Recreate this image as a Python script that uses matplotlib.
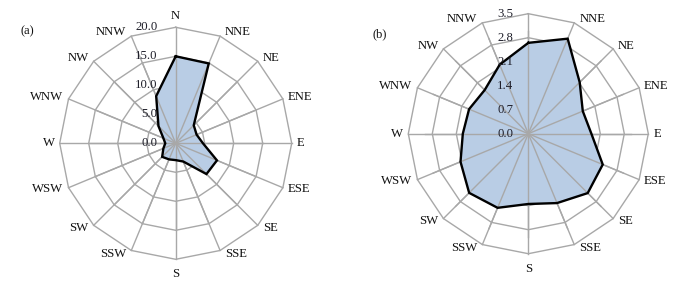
import numpy as np
import matplotlib
matplotlib.use("Agg")
import matplotlib.pyplot as plt

directions = ["N", "NNE", "NE", "ENE", "E", "ESE", "SE", "SSE",
              "S", "SSW", "SW", "WSW", "W", "WNW", "NW", "NNW"]
values_a = [15.0, 14.9, 4.4, 3.9, 4.7, 7.7, 7.5, 3.4,
            2.9, 3.0, 3.3, 2.3, 1.8, 2.3, 4.2, 8.8]
values_b = [2.65, 3.0, 2.12, 1.72, 1.84, 2.35, 2.45, 2.19,
            2.05, 2.34, 2.44, 2.14, 1.91, 1.87, 1.80, 2.18]
ticks_a = [0.0, 5.0, 10.0, 15.0, 20.0]
ticks_b = [0.0, 0.7, 1.4, 2.1, 2.8, 3.5]
panel_labels = ["(a)", "(b)"]

plt.rcParams['font.family'] = ['Liberation Serif', 'DejaVu Serif']

GRID = '#a8a8a8'
FILL = '#b9cde5'
TXT = '#1f1f2a'

fig = plt.figure(figsize=(6.93, 2.88), dpi=100)

def px(v):
    return v * 0.72  # pixels -> points at 100 dpi

def radar(rect, values, ticks, tick_gap_px, plabel, plabel_xy, show_top=True):
    ax = fig.add_axes(rect, projection='polar')
    ax.set_theta_zero_location('N')
    ax.set_theta_direction(-1)
    rmax = ticks[-1]
    ax.set_ylim(0, rmax)
    ax.grid(False)
    ax.set_xticks([])
    ax.set_yticks([])
    ax.spines['polar'].set_visible(False)
    ax.patch.set_visible(False)
    n = len(directions)
    theta = np.arange(n) * 2 * np.pi / n
    th_closed = np.append(theta, theta[0])
    for t in ticks[1:]:
        ax.plot(th_closed, [t] * (n + 1), color=GRID, lw=1.0, zorder=1, clip_on=False)
    for th in theta:
        ax.plot([th, th], [0, rmax], color=GRID, lw=1.0, zorder=1, clip_on=False)
    vals = np.append(values, values[0])
    ax.fill(th_closed, vals, color=FILL, zorder=2, lw=0)
    for th in theta:
        ax.plot([th, th], [0, max(values)], color=GRID, lw=1.0, zorder=2.5, clip_on=False)
    ax.plot(th_closed, vals, color='black', lw=1.7, zorder=3, solid_joinstyle='miter')
    for th, lab in zip(theta, directions):
        s, c = np.sin(th), np.cos(th)
        if abs(s) < 0.1:
            ha = 'center'
            dx = 0
            if c > 0:
                if not show_top:
                    continue
                va, dy = 'bottom', 5
            else:
                va, dy = 'top', -9
        else:
            ha = 'left' if s > 0 else 'right'
            dx = 5 if s > 0 else -5
            va = 'center'
            dy = 4 * c
        ax.annotate(lab, xy=(th, rmax), xytext=(px(dx), px(dy)),
                    textcoords='offset points', ha=ha, va=va,
                    fontsize=9.2, color='#111111', annotation_clip=False)
    for t in ticks:
        ax.annotate(f"{t:.1f}", xy=(0, t), xytext=(px(-tick_gap_px), 0),
                    textcoords='offset points', ha='right', va='center',
                    fontsize=9.2, color=TXT, zorder=5, annotation_clip=False)
    fig.text(plabel_xy[0] / 693, 1 - plabel_xy[1] / 288, plabel,
             ha='center', va='center', fontsize=9, color='#111111')
    return ax

W, H = 693.0, 288.0
ca, ra = (175.7, 143.3), 116.0
radar([(ca[0] - ra) / W, (H - ca[1] - ra) / H, 2 * ra / W, 2 * ra / H],
      values_a, ticks_a, 18, panel_labels[0], (27, 31))
cb, rb = (528.3, 133.7), 120.0
radar([(cb[0] - rb) / W, (H - cb[1] - rb) / H, 2 * rb / W, 2 * rb / H],
      values_b, ticks_b, 15, panel_labels[1], (380, 34), show_top=False)

fig.savefig("out.png", dpi=100)
